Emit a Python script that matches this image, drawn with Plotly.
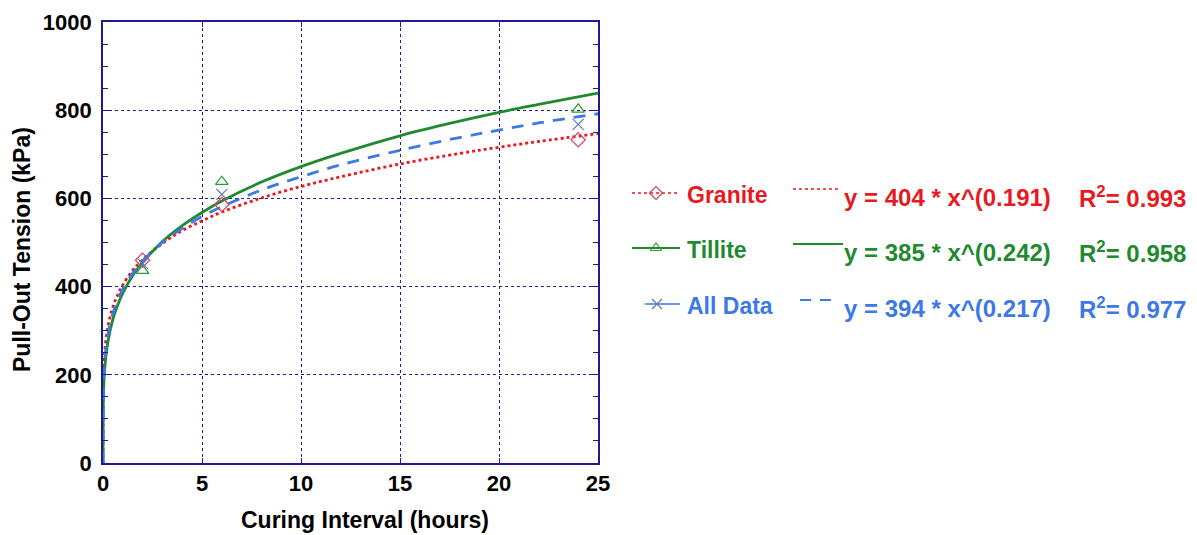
import plotly.graph_objects as go

W, H = 1197, 535

# ---- data ----
series_names = ["Granite", "Tillite", "All Data"]
meas_x = [2, 6, 24]
granite_meas = [460, 586, 733]
tillite_meas = [436, 638, 802]
alldata_meas = [452, 609, 768]

fit_x = [0, 0.01, 0.02, 0.05, 0.1, 0.25, 0.5, 0.75, 1, 1.5, 2, 3, 4, 5, 6, 8, 10, 12, 15, 18, 20, 22, 25]
granite_fit = [0, 168, 191, 228, 260, 310, 354, 382, 404, 437, 461, 498, 527, 549, 569, 601, 627, 649, 678, 702, 716, 729, 747]
tillite_fit = [0, 126, 149, 186, 221, 275, 326, 359, 385, 425, 455, 502, 538, 568, 594, 637, 672, 702, 742, 775, 795, 813, 839]
alldata_fit = [0, 145, 169, 206, 239, 292, 339, 370, 394, 430, 458, 500, 532, 559, 581, 619, 649, 676, 709, 738, 755, 771, 792]

equations = ["y = 404 * x^(0.191)", "y = 385 * x^(0.242)", "y = 394 * x^(0.217)"]
r2_values = ["0.993", "0.958", "0.977"]

x_ticks = [0, 5, 10, 15, 20, 25]
y_ticks = [0, 200, 400, 600, 800, 1000]

# ---- styles ----
colors = ["#e8191f", "#1f8a2f", "#3c78e6"]
marker_colors = ["#e0405a", "#2e9a3a", "#5a78b8"]
dashes = ["dot", "solid", "12px,9px"]
symbols = ["diamond-open", "triangle-up-open", "x-thin-open"]
FONT = "Liberation Sans, Arial, sans-serif"
NAVY = "#1c1c8e"

fig = go.Figure()

fits = [granite_fit, tillite_fit, alldata_fit]
meas = [granite_meas, tillite_meas, alldata_meas]
for i in range(3):
    fig.add_trace(go.Scatter(x=fit_x, y=fits[i], mode="lines", line_shape="spline",
                             line=dict(color=colors[i], width=2.8, dash=dashes[i]),
                             showlegend=False, xaxis="x", yaxis="y"))
for i in range(3):
    fig.add_trace(go.Scatter(x=meas_x, y=meas[i], mode="markers",
                             marker=dict(symbol=symbols[i], size=11, color=marker_colors[i],
                                         line=dict(color=marker_colors[i], width=1.2)),
                             showlegend=False, xaxis="x", yaxis="y"))

# ---- hand-drawn legend on a hidden pixel-space overlay ----
row_y = [193, 248, 304]
text_y = [195, 250, 306]
data_seg = [(632, 680), (632, 680), (645, 680)]
fit_seg = [(793, 840), (793, 843), (800, 837)]
for i in range(3):
    x0, x1 = data_seg[i]
    fig.add_trace(go.Scatter(x=[x0, x1], y=[row_y[i], row_y[i]], mode="lines",
                             line=dict(color=colors[i], width=1.6 if i != 1 else 2.2,
                                       dash="dot" if i == 0 else "solid"),
                             showlegend=False, xaxis="x2", yaxis="y2"))
    fig.add_trace(go.Scatter(x=[(x0 + x1) / 2 if i != 2 else 657], y=[row_y[i]], mode="markers",
                             marker=dict(symbol=symbols[i], size=10, color=marker_colors[i],
                                         line=dict(color=marker_colors[i], width=1.2)),
                             showlegend=False, xaxis="x2", yaxis="y2"))
    f0, f1 = fit_seg[i]
    fig.add_trace(go.Scatter(x=[f0, f1], y=[row_y[i] - 4, row_y[i] - 4], mode="lines",
                             line=dict(color=colors[i], width=2 if i != 0 else 1.6,
                                       dash=["dot", "solid", "11px,9px"][i]),
                             showlegend=False, xaxis="x2", yaxis="y2"))

annotations = []
for i in range(3):
    annotations.append(dict(x=685, y=text_y[i], xref="x2", yref="y2", xanchor="left", yanchor="middle",
                            text=f"<b>{series_names[i]}</b>", showarrow=False,
                            font=dict(family=FONT, size=23, color=colors[i])))
    annotations.append(dict(x=842, y=text_y[i] + 2, xref="x2", yref="y2", xanchor="left", yanchor="middle",
                            text=f"<b>{equations[i]}</b>", showarrow=False,
                            font=dict(family=FONT, size=24, color=colors[i])))
    annotations.append(dict(x=1077, y=text_y[i] + 2, xref="x2", yref="y2", xanchor="left", yanchor="middle",
                            text=f"<b>R<sup>2</sup>= {r2_values[i]}</b>", showarrow=False,
                            font=dict(family=FONT, size=24, color=colors[i])))

# axis titles
annotations.append(dict(x=365, y=520, xref="x2", yref="y2", xanchor="center", yanchor="middle",
                        text="<b>Curing Interval (hours)</b>", showarrow=False,
                        font=dict(family=FONT, size=23, color="black")))
annotations.append(dict(x=22, y=250, xref="x2", yref="y2", xanchor="center", yanchor="middle",
                        text="<b>Pull-Out Tension (kPa)</b>", showarrow=False, textangle=-90,
                        font=dict(family=FONT, size=23, color="black")))

L, R, T, B = 103, 598, 22, 463
fig.update_layout(
    width=W, height=H,
    margin=dict(l=0, r=0, t=0, b=0),
    paper_bgcolor="white", plot_bgcolor="rgba(0,0,0,0)",
    showlegend=False,
    xaxis=dict(domain=[L / W, R / W], range=[0, 25], tickvals=x_ticks,
               ticktext=[f"<b>{v}</b>" for v in x_ticks],
               showline=True, linecolor=NAVY, linewidth=1.6, mirror="ticks",
               ticks="inside", ticklen=5, tickcolor=NAVY,
               showgrid=True, gridcolor=NAVY, griddash="dot", gridwidth=1,
               zeroline=False, automargin=False,
               tickfont=dict(family=FONT, size=22, color="black"), anchor="y"),
    yaxis=dict(domain=[(H - B) / H, (H - T) / H], range=[0, 1000], tickvals=y_ticks,
               ticktext=[f"<b>{v}</b>" for v in y_ticks],
               showline=True, linecolor=NAVY, linewidth=1.6, mirror="ticks",
               ticks="inside", ticklen=6, tickcolor=NAVY, ticklabelstandoff=5,
               minor=dict(dtick=50, ticks="inside", ticklen=5, tickcolor=NAVY, showgrid=False),
               showgrid=True, gridcolor=NAVY, griddash="dot", gridwidth=1,
               zeroline=False, automargin=False,
               tickfont=dict(family=FONT, size=22, color="black"), anchor="x"),
    xaxis2=dict(domain=[0, 1], range=[0, W], visible=False, anchor="y2", fixedrange=True),
    yaxis2=dict(domain=[0, 1], range=[H, 0], visible=False, anchor="x2", fixedrange=True),
    annotations=annotations,
)

fig.write_html("out.html")
